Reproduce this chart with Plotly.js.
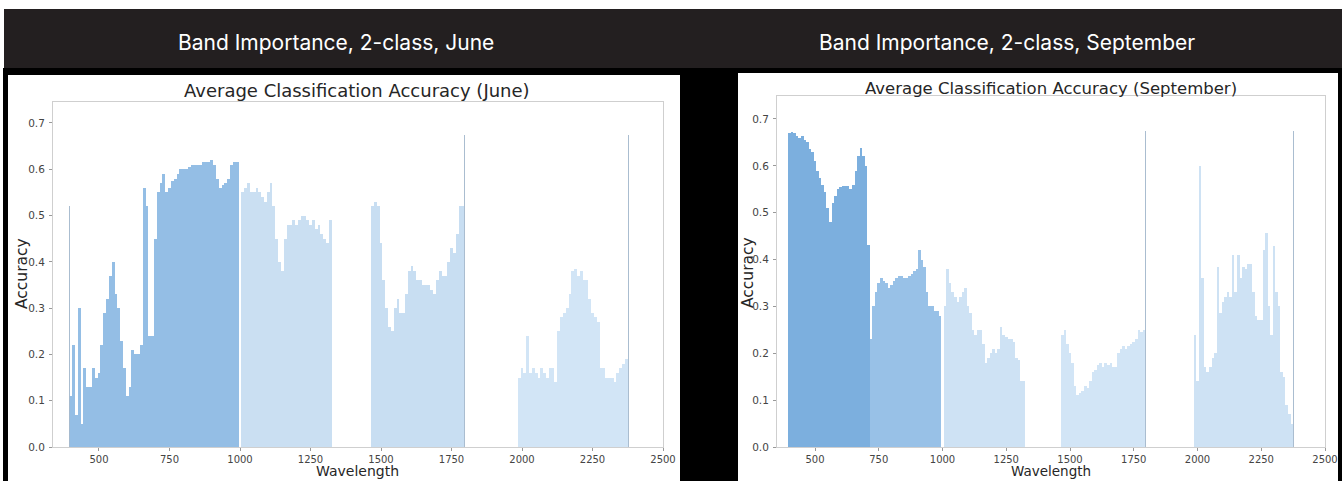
<!DOCTYPE html>
<html><head><meta charset="utf-8">
<script src="https://cdn.plot.ly/plotly-3.0.1.min.js"></script>
<style>html,body{margin:0;padding:0;background:#fff;overflow:hidden}#chart{width:1342px;height:481px}</style>
</head><body><div id="chart"></div>
<script>
// ---- data ----
const wavelengths = [
  400,410,420,430,440,450,460,470,480,490,500,510,520,530,540,550,560,570,580,590,
  600,610,620,630,640,650,660,670,680,690,700,710,720,730,740,750,760,770,780,790,
  800,810,820,830,840,850,860,870,880,890,900,910,920,930,940,950,960,970,980,990,
  1010,1020,1030,1040,1050,1060,1070,1080,1090,1100,1110,1120,1130,1140,1150,1160,
  1170,1180,1190,1200,1210,1220,1230,1240,1250,1260,1270,1280,1290,1300,1310,1320,
  1470,1480,1490,1500,1510,1520,1530,1540,1550,1560,1570,1580,1590,1600,1610,1620,
  1630,1640,1650,1660,1670,1680,1690,1700,1710,1720,1730,1740,1750,1760,1770,1780,1790,
  1990,2000,2010,2020,2030,2040,2050,2060,2070,2080,2090,2100,2110,2120,2130,2140,
  2150,2160,2170,2180,2190,2200,2210,2220,2230,2240,2250,2260,2270,2280,2290,2300,
  2310,2320,2330,2340,2350,2360,2370
];
const juneAccuracy = [
  0.11,0.22,0.07,0.30,0.05,0.17,0.13,0.13,0.17,0.15,
  0.16,0.22,0.29,0.32,0.37,0.40,0.33,0.30,0.23,0.17,
  0.11,0.13,0.21,0.20,0.20,0.22,0.56,0.52,0.24,0.24,
  0.45,0.55,0.57,0.59,0.55,0.56,0.575,0.58,0.59,0.60,
  0.60,0.60,0.605,0.61,0.61,0.61,0.61,0.615,0.615,0.615,
  0.62,0.61,0.58,0.56,0.565,0.57,0.58,0.61,0.615,0.615,
  0.55,0.56,0.57,0.55,0.55,0.56,0.55,0.54,0.53,0.55,
  0.57,0.52,0.45,0.40,0.38,0.45,0.48,0.48,0.49,0.48,
  0.49,0.50,0.50,0.49,0.48,0.49,0.47,0.48,0.46,0.45,
  0.44,0.49,
  0.52,0.53,0.52,0.44,0.36,0.30,0.26,0.25,0.30,0.32,
  0.29,0.29,0.33,0.38,0.39,0.38,0.36,0.36,0.35,0.35,
  0.35,0.34,0.33,0.36,0.38,0.37,0.37,0.40,0.43,0.42,
  0.46,0.52,0.52,
  0.15,0.17,0.16,0.24,0.16,0.17,0.16,0.15,0.17,0.16,
  0.15,0.17,0.17,0.14,0.25,0.28,0.29,0.30,0.33,0.38,
  0.385,0.37,0.38,0.36,0.36,0.32,0.29,0.28,0.27,0.17,
  0.17,0.15,0.15,0.15,0.14,0.16,0.17,0.18,0.19
];
const septemberAccuracy = [
  0.67,0.673,0.67,0.663,0.66,0.663,0.655,0.65,0.635,0.63,
  0.61,0.59,0.575,0.56,0.545,0.51,0.48,0.52,0.535,0.55,
  0.555,0.556,0.556,0.556,0.55,0.56,0.59,0.62,0.638,0.62,
  0.60,0.43,0.23,0.30,0.33,0.35,0.36,0.355,0.35,0.34,
  0.345,0.355,0.36,0.365,0.365,0.36,0.36,0.365,0.37,0.375,
  0.38,0.42,0.40,0.385,0.33,0.30,0.30,0.29,0.29,0.28,
  0.30,0.38,0.35,0.33,0.32,0.31,0.32,0.33,0.34,0.30,
  0.285,0.25,0.24,0.25,0.25,0.22,0.18,0.19,0.20,0.21,
  0.20,0.21,0.257,0.24,0.235,0.23,0.23,0.225,0.19,0.185,
  0.14,0.14,
  0.24,0.25,0.22,0.20,0.18,0.13,0.11,0.115,0.12,0.13,
  0.125,0.14,0.16,0.165,0.175,0.18,0.17,0.18,0.175,0.18,
  0.17,0.17,0.20,0.21,0.215,0.21,0.215,0.22,0.225,0.23,
  0.25,0.245,0.25,
  0.24,0.14,0.60,0.36,0.17,0.16,0.17,0.19,0.20,0.385,
  0.285,0.31,0.32,0.33,0.32,0.41,0.33,0.41,0.36,0.385,
  0.38,0.39,0.39,0.33,0.28,0.27,0.27,0.42,0.456,0.30,
  0.24,0.428,0.33,0.30,0.16,0.15,0.09,0.07,0.05
];
const juneSpikeWavelengths = [395, 1795, 2378];
const juneSpikeAccuracy = [0.52, 0.675, 0.675];
const septemberSpikeWavelengths = [1797, 2378];
const septemberSpikeAccuracy = [0.675, 0.675];
const xTickValues = [500, 750, 1000, 1250, 1500, 1750, 2000, 2250, 2500];
const yTickValues = [0, 0.1, 0.2, 0.3, 0.4, 0.5, 0.6, 0.7];
const headerLabels = ['Band Importance, 2-class, June', 'Band Importance, 2-class, September'];
const chartTitles = ['Average Classification Accuracy (June)', 'Average Classification Accuracy (September)'];

// ---- styling helpers ----
const W = 1342, H = 481;
const px = v => v / W;
const py = v => 1 - v / H;

function juneColor(w) {
  if (w < 1000) return 'rgb(148,190,229)';
  if (w < 1400) return 'rgb(202,223,242)';
  if (w < 1900) return 'rgb(200,222,242)';
  return 'rgb(210,229,246)';
}
function septColor(w) {
  if (w < 715) return 'rgb(124,175,222)';
  if (w < 1000) return 'rgb(152,193,231)';
  if (w < 1400) return 'rgb(206,226,244)';
  if (w < 1900) return 'rgb(210,229,246)';
  return 'rgb(206,226,244)';
}

const traces = [
  {type:'bar', x: wavelengths, y: juneAccuracy, width: 10, xaxis:'x', yaxis:'y',
   marker:{color: wavelengths.map(juneColor), line:{width:0}}, hoverinfo:'x+y'},
  {type:'bar', x: juneSpikeWavelengths, y: juneSpikeAccuracy, width: 4, xaxis:'x', yaxis:'y',
   marker:{color:'rgba(165,185,205,0.95)', line:{width:0}}},
  {type:'bar', x: wavelengths, y: septemberAccuracy, width: 10, xaxis:'x2', yaxis:'y2',
   marker:{color: wavelengths.map(septColor), line:{width:0}}, hoverinfo:'x+y'},
  {type:'bar', x: septemberSpikeWavelengths, y: septemberSpikeAccuracy, width: 4, xaxis:'x2', yaxis:'y2',
   marker:{color:'rgba(165,185,205,0.95)', line:{width:0}}}
];

const tickFont = {family:'DejaVu Sans', size:10, color:'#444'};
function xAxis(domain, range, anchor) {
  return {domain, range, anchor, tickvals: xTickValues, ticks:'outside', ticklen:3, tickcolor:'#999',
    showline:true, mirror:true, linecolor:'#cfcfcf', linewidth:1, showgrid:false, zeroline:false,
    tickfont: tickFont, ticklabelstandoff: 0, fixedrange:true};
}
function yAxis(domain, range, anchor) {
  return {domain, range, anchor, tickvals: yTickValues, tickformat:'.1f', ticks:'outside', ticklen:3, tickcolor:'#999',
    showline:true, mirror:true, linecolor:'#cfcfcf', linewidth:1, showgrid:false, zeroline:false,
    tickfont: {family:'DejaVu Sans', size:10.5, color:'#444'}, ticklabelstandoff: 2, fixedrange:true};
}

const shapes = [
  {type:'rect', xref:'paper', yref:'paper', x0:px(4), x1:1, y0:py(68), y1:py(9), fillcolor:'#231f20', line:{width:0}, layer:'below'},
  {type:'rect', xref:'paper', yref:'paper', x0:px(3), x1:1, y0:0, y1:py(68), fillcolor:'#000', line:{width:0}, layer:'below'},
  {type:'rect', xref:'paper', yref:'paper', x0:px(8), x1:px(680), y0:0, y1:py(75), fillcolor:'#fff', line:{width:0}, layer:'below'},
  {type:'rect', xref:'paper', yref:'paper', x0:px(738), x1:px(1338), y0:0, y1:py(73), fillcolor:'#fff', line:{width:0}, layer:'below'}
];

const textColor = '#262626';
const annotations = [
  {text: headerLabels[0], xref:'paper', yref:'paper', x:px(336), y:py(42), showarrow:false, xanchor:'center', yanchor:'middle',
   font:{family:'Inter', size:21, color:'#fff'}},
  {text: headerLabels[1], xref:'paper', yref:'paper', x:px(1007), y:py(42), showarrow:false, xanchor:'center', yanchor:'middle',
   font:{family:'Inter', size:21, color:'#fff'}},
  {text: chartTitles[0], xref:'paper', yref:'paper', x:px(357), y:py(90), showarrow:false, xanchor:'center', yanchor:'middle',
   font:{family:'DejaVu Sans', size:18, color:textColor}},
  {text: chartTitles[1], xref:'paper', yref:'paper', x:px(1051), y:py(89), showarrow:false, xanchor:'center', yanchor:'middle',
   font:{family:'DejaVu Sans', size:16.5, color:textColor}},
  {text:'Accuracy', xref:'paper', yref:'paper', x:px(22), y:py(274), textangle:-90, showarrow:false, xanchor:'center', yanchor:'middle',
   font:{family:'DejaVu Sans', size:15.5, color:textColor}},
  {text:'Accuracy', xref:'paper', yref:'paper', x:px(748), y:py(272), textangle:-90, showarrow:false, xanchor:'center', yanchor:'middle',
   font:{family:'DejaVu Sans', size:15.5, color:textColor}},
  {text:'Wavelength', xref:'paper', yref:'paper', x:px(357), y:py(471), showarrow:false, xanchor:'center', yanchor:'middle',
   font:{family:'DejaVu Sans', size:14, color:textColor}},
  {text:'Wavelength', xref:'paper', yref:'paper', x:px(1051), y:py(471), showarrow:false, xanchor:'center', yanchor:'middle',
   font:{family:'DejaVu Sans', size:13.5, color:textColor}}
];

const layout = {
  width: W, height: H, margin:{l:0, r:0, t:0, b:0},
  paper_bgcolor:'#fff', plot_bgcolor:'#fff', showlegend:false,
  barmode:'overlay', bargap:0,
  xaxis:  xAxis([px(53), px(663)], [336.9, 2500], 'y'),
  yaxis:  yAxis([py(447), py(102)], [0, 0.7453], 'x'),
  xaxis2: xAxis([px(777), px(1325)], [351, 2500], 'y2'),
  yaxis2: yAxis([py(447), py(96)], [0, 0.749], 'x2'),
  shapes, annotations
};

Plotly.newPlot('chart', traces, layout, {displayModeBar:false, staticPlot:true});
</script></body></html>
